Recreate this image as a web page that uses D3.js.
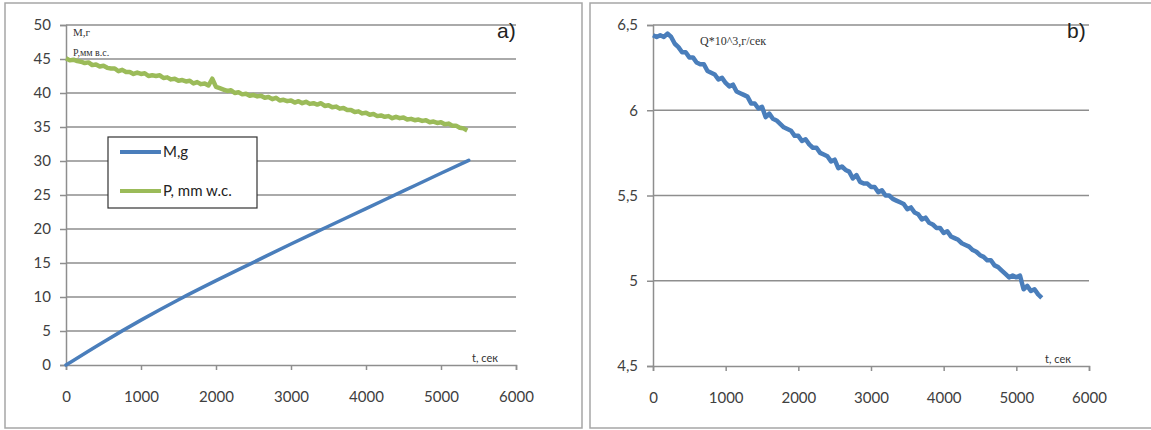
<!DOCTYPE html>
<html>
<head>
    <meta charset="utf-8" />
    <script src="https://cdn.jsdelivr.net/npm/d3@7"></script>
    <title></title>
    <style>
        body { margin: 0; background: #fff; }
        .tickLbl { font-family: Lato, "Open Sans", sans-serif; font-size: 15px; fill: #404040; }
        .serif { font-family: "Liberation Serif", "DejaVu Serif", serif; fill: #333; }
    </style>
</head>
<body>
    <script>
        // time grid, seconds (shared by P and Q records)
        var tSec = [0, 50, 100, 150, 200, 250, 300, 350, 400, 450, 500, 550, 600, 650, 700, 750, 800, 850, 900, 950,
            1000, 1050, 1100, 1150, 1200, 1250, 1300, 1350, 1400, 1450, 1500, 1550, 1600, 1650, 1700, 1750, 1800, 1850, 1900, 1950,
            2000, 2050, 2100, 2150, 2200, 2250, 2300, 2350, 2400, 2450, 2500, 2550, 2600, 2650, 2700, 2750, 2800, 2850, 2900, 2950,
            3000, 3050, 3100, 3150, 3200, 3250, 3300, 3350, 3400, 3450, 3500, 3550, 3600, 3650, 3700, 3750, 3800, 3850, 3900, 3950,
            4000, 4050, 4100, 4150, 4200, 4250, 4300, 4350, 4400, 4450, 4500, 4550, 4600, 4650, 4700, 4750, 4800, 4850, 4900, 4950,
            5000, 5050, 5100, 5150, 5200, 5250, 5300, 5350];

        // P, mm w.c.
        var pVals = [45.1, 44.8, 44.9, 44.7, 44.6, 44.4, 44.5, 44.1, 44.2, 43.9, 44.0, 43.7, 43.6, 43.6, 43.2, 43.4, 43.1, 43.1, 42.8, 43.0,
            42.8, 42.9, 42.5, 42.6, 42.5, 42.6, 42.2, 42.3, 42.0, 42.1, 41.8, 41.9, 41.7, 41.8, 41.4, 41.6, 41.3, 41.4, 41.1, 42.1,
            40.9, 40.7, 40.5, 40.3, 40.4, 40.0, 40.1, 39.8, 39.9, 39.6, 39.7, 39.5, 39.6, 39.3, 39.4, 39.1, 39.3, 38.9, 39.0, 38.8,
            38.9, 38.6, 38.8, 38.5, 38.7, 38.4, 38.5, 38.3, 38.5, 38.1, 38.2, 37.9, 38.0, 37.7, 37.8, 37.5, 37.5, 37.2, 37.3, 37.0,
            37.1, 36.8, 36.9, 36.6, 36.7, 36.5, 36.6, 36.3, 36.5, 36.3, 36.4, 36.1, 36.2, 36.0, 36.1, 35.9, 36.0, 35.7, 35.8, 35.6,
            35.7, 35.4, 35.5, 35.2, 35.2, 34.9, 34.8, 34.5];

        // Q*10^3, g/s
        var qVals = [6.44, 6.43, 6.44, 6.43, 6.45, 6.43, 6.39, 6.37, 6.34, 6.34, 6.31, 6.31, 6.28, 6.27, 6.27, 6.23, 6.22, 6.21, 6.18, 6.19,
            6.16, 6.14, 6.15, 6.11, 6.10, 6.09, 6.08, 6.04, 6.04, 6.01, 6.02, 5.96, 5.98, 5.95, 5.94, 5.92, 5.90, 5.89, 5.88, 5.85,
            5.85, 5.82, 5.83, 5.80, 5.78, 5.78, 5.75, 5.74, 5.73, 5.70, 5.71, 5.66, 5.67, 5.65, 5.64, 5.60, 5.62, 5.58, 5.57, 5.57,
            5.55, 5.55, 5.52, 5.53, 5.50, 5.50, 5.48, 5.47, 5.46, 5.45, 5.42, 5.43, 5.40, 5.39, 5.36, 5.37, 5.34, 5.33, 5.31, 5.31,
            5.28, 5.29, 5.26, 5.25, 5.24, 5.22, 5.21, 5.20, 5.18, 5.17, 5.15, 5.14, 5.12, 5.12, 5.09, 5.08, 5.06, 5.04, 5.02, 5.03,
            5.02, 5.03, 4.95, 4.97, 4.94, 4.95, 4.92, 4.90];

        // M, g
        var tM = [0, 500, 1000, 1500, 2000, 2500, 3000, 3500, 4000, 4500, 5000, 5370];
        var mVals = [0, 3.4, 6.6, 9.6, 12.4, 15.1, 17.8, 20.4, 23.0, 25.6, 28.2, 30.1];

        var xTicks = [0, 1000, 2000, 3000, 4000, 5000, 6000];
        var yTicksA = [0, 5, 10, 15, 20, 25, 30, 35, 40, 45, 50];
        var yTicksB = [4.5, 5, 5.5, 6, 6.5];
        var legendNames = ["M,g", "P, mm w.c."];

        var blue = "#4a7ebb", green = "#9bbb59", gridCol = "#8e8e8e";

        var svg = d3.select("body").append("svg")
            .attr("width", 1151)
            .attr("height", 430);

        // panel frames
        svg.append("rect").attr("x", 5).attr("y", 3).attr("width", 577).attr("height", 425)
            .attr("fill", "none").attr("stroke", "#a6a6a6").attr("stroke-width", 1.5);
        svg.append("rect").attr("x", 590).attr("y", 3).attr("width", 565).attr("height", 425)
            .attr("fill", "none").attr("stroke", "#a6a6a6").attr("stroke-width", 1.5);

        function zip(xs, ys) {
            return xs.map(function (t, i) { return [t, ys[i]]; });
        }

        function drawPanel(x, y, yTicks, fmt) {
            var x0 = x.range()[0], x1 = x.range()[1];
            var g = svg.append("g");
            // gridlines
            g.selectAll(".grid")
                .data(yTicks.slice(1))
                .enter().append("line")
                .attr("x1", x0).attr("x2", x1)
                .attr("y1", function (d) { return y(d); })
                .attr("y2", function (d) { return y(d); })
                .attr("stroke", gridCol).attr("stroke-width", 1.5);
            // axes
            var ya = g.append("g")
                .attr("transform", "translate(" + x0 + ",0)")
                .call(d3.axisLeft(y).tickValues(yTicks).tickSize(6).tickPadding(9).tickFormat(fmt));
            var xa = g.append("g")
                .attr("transform", "translate(0," + y.range()[0] + ")")
                .call(d3.axisBottom(x).tickValues(xTicks).tickSizeInner(5).tickSizeOuter(5).tickPadding(21).tickFormat(d3.format("d")));
            [ya, xa].forEach(function (a) {
                a.select(".domain").attr("stroke", gridCol).attr("stroke-width", 1.5);
                a.selectAll(".tick line").attr("stroke", gridCol).attr("stroke-width", 1.5);
                a.selectAll("text").attr("class", "tickLbl").attr("fill", null);
            });
            return g;
        }

        // ---- panel a)
        var xA = d3.scaleLinear().domain([0, 6000]).range([66, 516]);
        var yA = d3.scaleLinear().domain([0, 50]).range([365, 25]);
        drawPanel(xA, yA, yTicksA, d3.format("d"));

        var lineA = d3.line()
            .x(function (d) { return xA(d[0]); })
            .y(function (d) { return yA(d[1]); });

        svg.append("path")
            .datum(zip(tSec, pVals))
            .attr("d", lineA)
            .attr("fill", "none").attr("stroke", green)
            .attr("stroke-width", 4.5).attr("stroke-linejoin", "round");
        svg.append("path")
            .datum(zip(tM, mVals))
            .attr("d", lineA.curve(d3.curveMonotoneX))
            .attr("fill", "none").attr("stroke", blue)
            .attr("stroke-width", 3.5).attr("stroke-linecap", "round");

        svg.append("text").attr("class", "serif").attr("x", 73).attr("y", 36)
            .style("font-size", "11px").text("M,г");
        svg.append("text").attr("class", "serif").attr("x", 73).attr("y", 56)
            .style("font-size", "10px").text("P,мм в.с.");
        svg.append("text").attr("x", 472).attr("y", 362)
            .style("font-family", "Lato, sans-serif").style("font-size", "11px").attr("fill", "#333")
            .text("t, сек");
        svg.append("text").attr("x", 497).attr("y", 38)
            .style("font-family", "Liberation Sans, Arial, sans-serif").style("font-size", "21px").attr("fill", "#222")
            .text("a)");

        // legend
        var leg = svg.append("g").attr("transform", "translate(108,137)");
        leg.append("rect").attr("width", 149).attr("height", 71)
            .attr("fill", "#fff").attr("stroke", "#333").attr("stroke-width", 1.2);
        var legItem = leg.selectAll(".legItem")
            .data(legendNames)
            .enter().append("g")
            .attr("transform", function (d, i) { return "translate(12," + (15 + i * 39) + ")"; });
        legItem.append("line")
            .attr("x1", 0).attr("x2", 41)
            .attr("stroke", function (d, i) { return i === 0 ? blue : green; })
            .attr("stroke-width", 4);
        legItem.append("text")
            .attr("x", 43).attr("y", 5)
            .style("font-family", "Lato, \"Open Sans\", sans-serif").style("font-size", "15px").attr("fill", "#222")
            .text(function (d) { return d; });

        // ---- panel b)
        var xB = d3.scaleLinear().domain([0, 6000]).range([653, 1089]);
        var yB = d3.scaleLinear().domain([4.5, 6.5]).range([366, 25]);
        drawPanel(xB, yB, yTicksB, function (d) { return String(d).replace(".", ","); });

        var lineB = d3.line()
            .x(function (d) { return xB(d[0]); })
            .y(function (d) { return yB(d[1]); });
        svg.append("path")
            .datum(zip(tSec, qVals))
            .attr("d", lineB)
            .attr("fill", "none").attr("stroke", blue)
            .attr("stroke-width", 4.5).attr("stroke-linejoin", "round");

        svg.append("text").attr("class", "serif").attr("x", 700).attr("y", 45)
            .style("font-size", "12px").text("Q*10^3,г/сек");
        svg.append("text").attr("x", 1045).attr("y", 363)
            .style("font-family", "Lato, sans-serif").style("font-size", "11px").attr("fill", "#333")
            .text("t, сек");
        svg.append("text").attr("x", 1067).attr("y", 38)
            .style("font-family", "Liberation Sans, Arial, sans-serif").style("font-size", "21px").attr("fill", "#222")
            .text("b)");
    </script>
</body>
</html>
